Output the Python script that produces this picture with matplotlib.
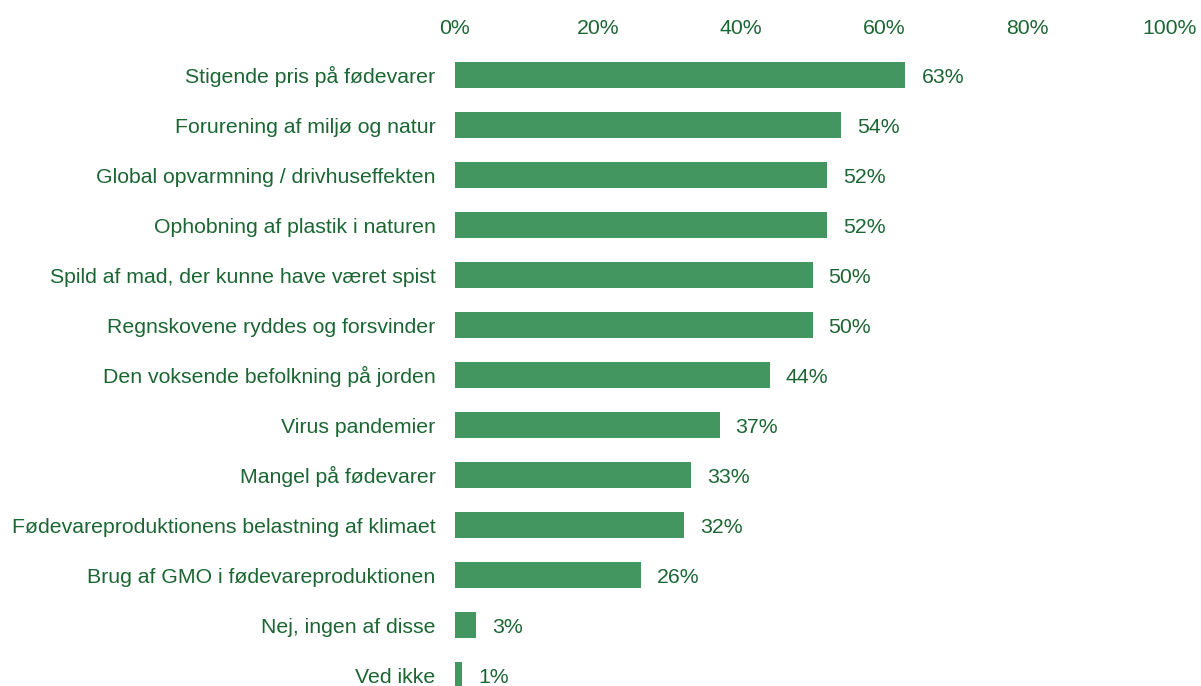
import matplotlib.pyplot as plt

# Survey shares, top to bottom
categories = [
    "Stigende pris på fødevarer",
    "Forurening af miljø og natur",
    "Global opvarmning / drivhuseffekten",
    "Ophobning af plastik i naturen",
    "Spild af mad, der kunne have været spist",
    "Regnskovene ryddes og forsvinder",
    "Den voksende befolkning på jorden",
    "Virus pandemier",
    "Mangel på fødevarer",
    "Fødevareproduktionens belastning af klimaet",
    "Brug af GMO i fødevareproduktionen",
    "Nej, ingen af disse",
    "Ved ikke",
]
values = [63, 54, 52, 52, 50, 50, 44, 37, 33, 32, 26, 3, 1]
xticks = [0, 20, 40, 60, 80, 100]

BAR = "#43965f"
TEXT = "#1b6633"
FS = 15.3

plt.rcParams["font.family"] = ["Liberation Sans", "DejaVu Sans"]

W, H = 1201, 686
fig = plt.figure(figsize=(W / 100, H / 100), dpi=100)
# axes spans from pixel x 455..1170, y 50..686
ax = fig.add_axes([455 / W, 0, (1170 - 455) / W, (H - 50) / H])

ypos = list(range(len(categories)))
ax.barh(ypos, values, height=0.52, color=BAR)

# baseline sits a little below the bar centre so the caps look centred
for y, v, name in zip(ypos, values, categories):
    ax.annotate(f"{v}%", (v, y), xytext=(11.5, -5.8), textcoords="offset points",
                va="baseline", ha="left", fontsize=FS, color=TEXT)
    ax.annotate(name, (0, y), xycoords=("axes fraction", "data"),
                xytext=(-14, -5.8), textcoords="offset points",
                va="baseline", ha="right", fontsize=FS, color=TEXT,
                annotation_clip=False)

ax.set_xlim(0, 100)
ax.set_ylim((H - 75) / 50, -0.5)
ax.set_xticks(xticks)
ax.set_xticklabels([f"{t}%" for t in xticks])
ax.xaxis.tick_top()
ax.tick_params(axis="x", length=0, pad=9, labelsize=FS, labelcolor=TEXT)
ax.set_yticks([])

for s in ax.spines.values():
    s.set_visible(False)

fig.savefig("out.png", dpi=100)
